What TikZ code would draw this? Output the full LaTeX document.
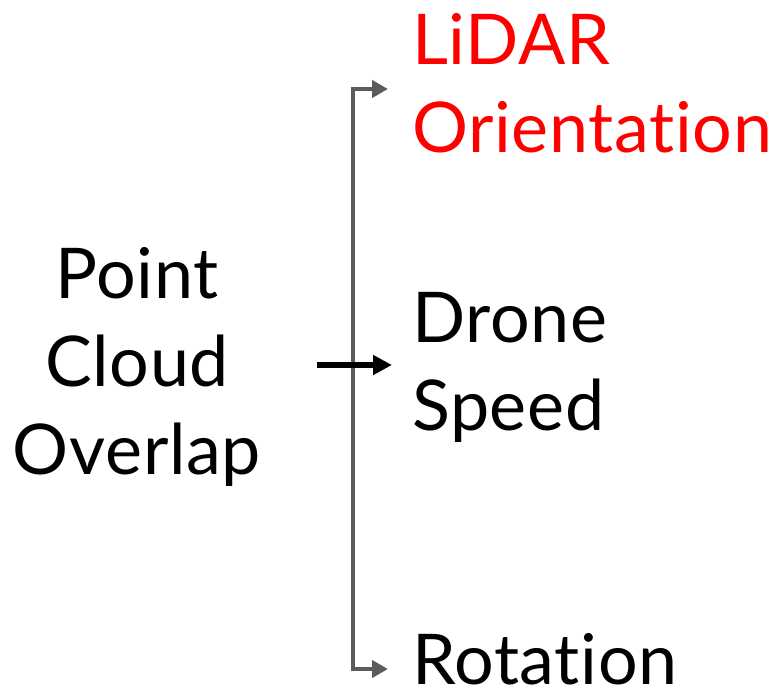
\documentclass[tikz,border=0pt]{standalone}
\usepackage{fontspec}
\setmainfont{Lato}[Ligatures={NoCommon,NoContextual}, LetterSpace=1]
\usetikzlibrary{arrows.meta}
\definecolor{linkgray}{HTML}{5C5C5C}
\definecolor{hotred}{HTML}{FF0000}
\tikzset{
  label/.style={inner sep=0pt, outer sep=0pt, font=\fontsize{70}{88}\selectfont},
  redlabel/.style={label, text=hotred},
  graylink/.style={draw=linkgray, line width=4pt, line join=miter,
    {Triangle[length=16pt,width=17pt]}-{Triangle[length=16pt,width=17pt]},
    shorten <=24pt, shorten >=24pt},
  mainlink/.style={draw=black, line width=6pt, shorten >=20pt,
    -{Triangle[length=19pt,width=19pt]}}
}
\begin{document}
\begin{tikzpicture}[x=1pt, y=-1pt]
  \useasboundingbox (0,0) rectangle (776,695);
  % source and targets (base anchor = baseline of the last line)
  \node[label, align=center, anchor=base] (src) at (137,474) {Point\\Cloud\\Overlap};
  \node[redlabel, align=left, anchor=base west] (lidar) at (412,153) {LiDAR\\Orientation};
  \node[label, align=left, anchor=base west] (speed) at (412,430) {Drone\\Speed};
  \node[label, anchor=base west] (rot) at (412,684) {Rotation};
  % bracket junctions and the tail of the main arrow
  \coordinate (jt) at (353,89);
  \coordinate (jm) at (353,365);
  \coordinate (jb) at (353,669);
  \coordinate (tail) at (317,365);
  % bracket to the outer targets
  \path[graylink] (jt -| lidar.west) -- (jt) -- (jb) -- (jb -| rot.west);
  % main arrow
  \path[mainlink] (tail) -- (speed.west |- jm);
\end{tikzpicture}
\end{document}
